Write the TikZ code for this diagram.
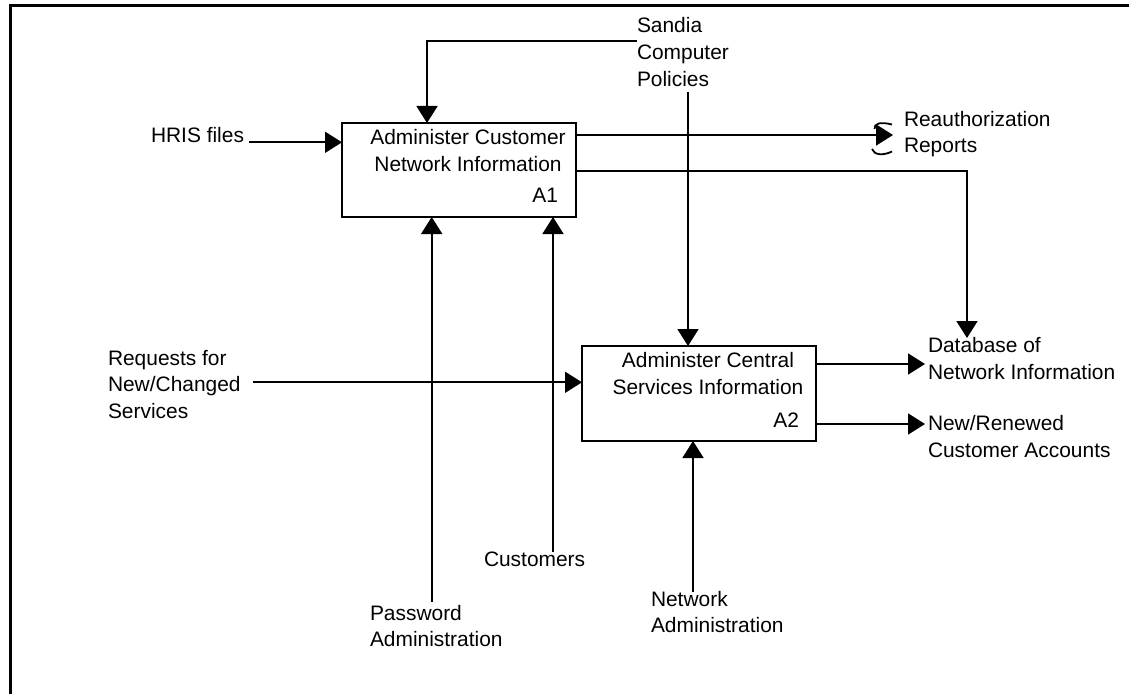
\documentclass[tikz,border=0pt]{standalone}
\usepackage{fontspec}
\setmainfont{Liberation Sans}
\usetikzlibrary{arrows.meta}
\tikzset{
  lbl/.style={inner sep=0pt, outer sep=0pt, align=left, anchor=base west,
    font=\fontsize{21}{26.7}\selectfont},
  ttl/.style={inner sep=0pt, outer sep=0pt, align=center, anchor=base,
    font=\fontsize{21}{27.5}\selectfont},
  num/.style={inner sep=0pt, outer sep=0pt, anchor=base east,
    font=\fontsize{21}{26.7}\selectfont},
  procbox/.style={draw, line width=2.4bp, minimum width=234bp, inner sep=0pt, outer sep=0pt},
  flow/.style={line width=1.8bp, -{Triangle[length=17bp,width=21bp]}},
  wire/.style={line width=1.8bp},
  frameline/.style={line width=3bp},
}
\begin{document}
\begin{tikzpicture}[x=1bp,y=-1bp]
\useasboundingbox (0,0) rectangle (1129,694);

% page frame (runs off the right and bottom edges)
\begin{scope}
  \clip (0,0) rectangle (1129,694);
  \draw[frameline] (10.5,710) -- (10.5,6) -- (1140,6);
\end{scope}

% activity boxes (multi-line texts are placed by their last baseline)
\node[procbox, minimum height=94bp] (a1) at (459,170) {};
\node[ttl] (a1t) at (468,171.7) {Administer Customer\\Network Information};
\node[num] (a1n) at (558,203) {A1};

\node[procbox, minimum height=95bp] (a2) at (699,393.5) {};
\node[ttl] (a2t) at (708,394.5) {Administer Central\\Services Information};
\node[num] (a2n) at (799,427) {A2};

% external labels
\node[lbl] (hris) at (151,142.3) {HRIS files};
\node[lbl] (scp) at (637,86.1) {Sandia\\Computer\\Policies};
\node[lbl] (reauth) at (904,153) {Reauthorization\\Reports};
\node[lbl] (db) at (928,379) {Database of\\Network Information};
\node[lbl] (req) at (108,418.4) {Requests for\\New/Changed\\Services};
\node[lbl] (nr) at (928,457) {New/Renewed\\Customer Accounts};
\node[lbl] (pw) at (370,646.7) {Password\\Administration};
\node[lbl] (cust) at (484,566.7) {Customers};
\node[lbl] (na) at (651,632.7) {Network\\Administration};

% free ends of the connectors
\coordinate (scpL) at (636.5,40.7);
\coordinate (scpS) at (688,91.7);
\coordinate (tun) at (893,135);
\coordinate (dbtop) at (967,338);
\coordinate (reqL) at (252.7,382.3);
\coordinate (pwT) at (431.7,601.7);
\coordinate (custT) at (553,551.7);
\coordinate (naT) at (693,591.7);
\coordinate (dbL) at (925,364);
\coordinate (nrL) at (925,424);

% inputs
\draw[flow] ([xshift=5bp]hris.base east) -- (a1.west |- hris.base);
\draw[flow] (reqL) -- (a2.west |- reqL);

% controls
\draw[flow] (scpL) -| ([xshift=-32bp]a1.north);
\draw[flow] (scpS) -- (a2.north -| scpS);

% mechanisms
\draw[flow] (pwT) -- (a1.south -| pwT);
\draw[flow] (custT) -- (a1.south -| custT);
\draw[flow] (naT) -- (a2.south -| naT);

% outputs of A1 (the first one is tunnelled at its end)
\draw[flow] (a1.east |- tun) -- (tun);
\draw[wire] (874.5,129) .. controls (874,123.5) and (880,121.5) .. (892,124.5);
\draw[wire] (872,149) .. controls (874,155.5) and (884,155.5) .. (892,151.5);
\draw[flow] (a1.east |- 0,170.7) -| (dbtop);

% outputs of A2
\draw[flow] (a2.east |- dbL) -- (dbL);
\draw[flow] (a2.east |- nrL) -- (nrL);
\end{tikzpicture}
\end{document}
